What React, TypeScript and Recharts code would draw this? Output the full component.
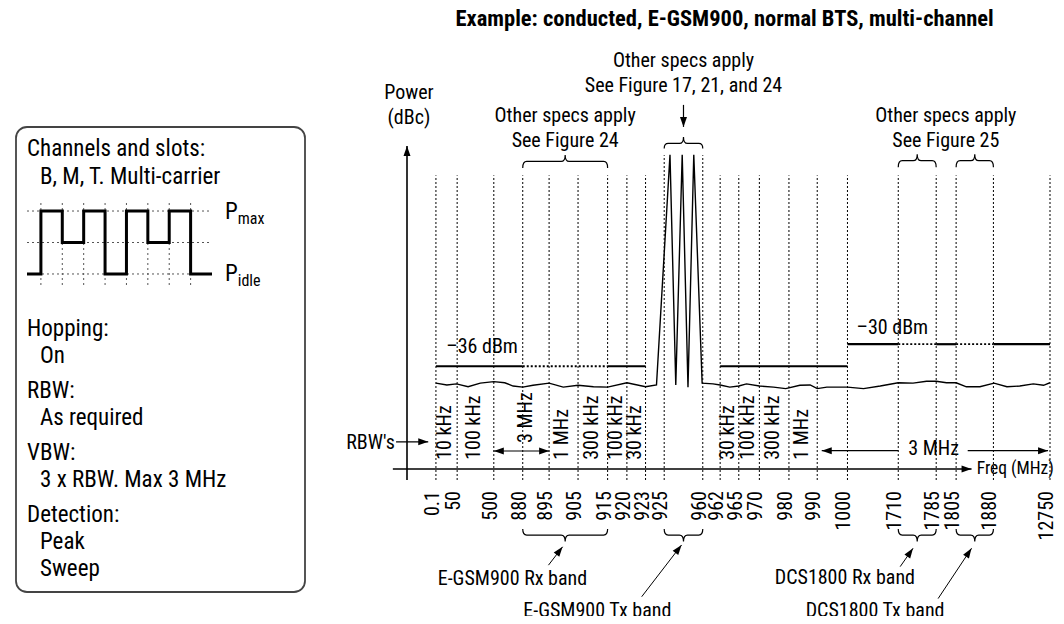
import React from 'react';
import {
  ComposedChart,
  LineChart,
  Line,
  XAxis,
  YAxis,
  ReferenceLine,
  ReferenceDot,
} from 'recharts';

const FONT = "'Liberation Sans Narrow', 'Roboto Condensed', 'DejaVu Sans Condensed', sans-serif";
const FS = 20;

// frequencies on the axis (MHz) and where each sits on the broken axis (0..100)
const freqLabels = ['0.1', '50', '500', '880', '895', '905', '915', '920', '923', '925', '960',
  '962', '965', '970', '980', '990', '1000', '1710', '1785', '1805', '1880', '12750'];
const freqPos = [4.5, 7.8, 13.5, 18.0, 22.1, 26.6, 31.2, 34.2, 37.1, 40.0, 46.0,
  48.7, 51.6, 54.8, 59.4, 63.8, 68.5, 76.4, 82.3, 85.4, 91.2, 100];

// spurious emission limits (dBm), dotted where other specs apply
const limitFrom = ['0.1', '880', '915', '962', '1000', '1710', '1785', '1805', '1880'];
const limitTo = ['880', '915', '923', '1000', '1710', '1785', '1805', '1880', '12750'];
const limitLevel = [-36, -36, -36, -36, -30, -30, -30, -30, -30];
const limitDotted = [false, true, false, false, false, true, false, true, false];

// measured trace: noise floor plus the three carriers
const tracePos = [4.5, 6.2, 7.7, 9.5, 11.4, 13.5, 15.2, 16.5, 18.0, 19.6, 22.1, 24.3, 26.6, 29.0,
  31.2, 34.2, 37.1, 38.8, 40.9, 41.8, 42.8, 43.7, 44.6, 45.9, 47.6, 48.7, 50.2, 51.6, 52.8, 54.8,
  57.0, 58.9, 61.1, 62.7, 63.8, 65.3, 68.5, 71.0, 73.6, 76.4, 78.7, 80.8, 82.3, 83.9, 85.4, 87.0,
  89.1, 91.3, 93.3, 95.3, 97.4, 99.0, 100];
const traceLevel = [-40.6, -41.1, -40.8, -41.6, -40.6, -40.2, -40.5, -41.4, -41.7, -41.2, -40.6,
  -41.7, -41.2, -41.6, -41.7, -40.5, -41.6, -41.1, 21.6, -41.1, 21.6, -41.7, 21.6, -40.6, -40.8,
  -41.1, -41.7, -41.4, -40.8, -41.4, -41.7, -42.1, -41.2, -41.1, -42.1, -41.7, -41.7, -42.1, -41.4,
  -40.5, -40.6, -40.1, -40.1, -40.5, -40.5, -41.6, -41.6, -40.6, -41.6, -41.4, -40.8, -41.2, -40.5];

// RBW used in each segment
const rbwFrom = ['0.1', '50', '895', '905', '915', '920', '962', '965', '970', '980'];
const rbwTo = ['50', '500', '905', '915', '920', '923', '965', '970', '980', '990'];
const rbwText = ['10 kHz', '100 kHz', '1 MHz', '300 kHz', '100 kHz', '30 kHz', '30 kHz', '100 kHz', '300 kHz', '1 MHz'];

// bands marked under the axis
const bandName = ['E-GSM900 Rx band', 'E-GSM900 Tx band', 'DCS1800 Rx band', 'DCS1800 Tx band'];
const bandFrom = ['880', '925', '1710', '1805'];
const bandTo = ['915', '960', '1785', '1880'];

// slot pattern in the legend box: 0 = Pidle, 1 = reduced, 2 = Pmax
const pulseTime = [0.35, 1, 2, 3, 4, 5, 6, 7, 8, 9];
const pulseLevel = [0, 2, 1, 2, 0, 2, 1, 2, 0, 0];

const pos = (f: string) => freqPos[freqLabels.indexOf(f)];
const mid = (a: string, b: string) => (pos(a) + pos(b)) / 2;

const head = (x1: number, y1: number, x2: number, y2: number, len = 10, half = 3.5) => {
  const a = Math.atan2(y2 - y1, x2 - x1);
  const bx = x2 - len * Math.cos(a);
  const by = y2 - len * Math.sin(a);
  const px = -Math.sin(a) * half;
  const py = Math.cos(a) * half;
  return `${x2},${y2} ${bx + px},${by + py} ${bx - px},${by - py}`;
};

const arrow = (both = false, w = 1.3) => (p: any) => (
  <g>
    <line x1={p.x1} y1={p.y1} x2={p.x2} y2={p.y2} stroke="#000" strokeWidth={w} />
    <polygon points={head(p.x1, p.y1, p.x2, p.y2)} fill="#000" />
    {both && <polygon points={head(p.x2, p.y2, p.x1, p.y1)} fill="#000" />}
  </g>
);

// curly brace; dir 1 = tip up, -1 = tip down
const brace = (dir: number, leg = 6.5, tip = 6.5) => (p: any) => {
  const { x1, x2, y1: y } = p;
  const xm = (x1 + x2) / 2;
  const r = 4;
  const e = y + dir * leg;
  const t = y - dir * tip;
  const d = `M${x1},${e} Q${x1},${y} ${x1 + r},${y} L${xm - r},${y} Q${xm},${y} ${xm},${t} ` +
    `Q${xm},${y} ${xm + r},${y} L${x2 - r},${y} Q${x2},${y} ${x2},${e}`;
  return <path d={d} fill="none" stroke="#000" strokeWidth={1.2} />;
};

type TxtOpt = {
  anchor?: 'start' | 'middle' | 'end';
  bold?: boolean;
  rotate?: boolean;
  size?: number;
};

const txt = (key: string, x: number, y: number, s: string, o: TxtOpt = {}) => (
  <ReferenceDot
    key={key}
    x={x}
    y={y}
    r={0}
    ifOverflow="visible"
    shape={(p: any) => (
      <text
        x={p.cx}
        y={p.cy}
        transform={o.rotate ? `rotate(-90 ${p.cx} ${p.cy})` : undefined}
        textAnchor={o.anchor ?? 'middle'}
        dominantBaseline="central"
        fontFamily={FONT}
        fontSize={o.size ?? FS}
        fontWeight={o.bold ? 700 : 400}
        fill="#000"
      >
        {s}
      </text>
    )}
  />
);

const seg = (key: string, xa: number, ya: number, xb: number, yb: number, shape: any) => (
  <ReferenceLine key={key} segment={[{ x: xa, y: ya }, { x: xb, y: yb }]} ifOverflow="visible" shape={shape} />
);

const FreqTick = (p: any) => {
  const label = freqLabels[freqPos.indexOf(p.payload.value)];
  return (
    <text
      x={0}
      y={0}
      transform={`translate(${p.x - 4},${p.y}) rotate(-90)`}
      textAnchor="end"
      dominantBaseline="central"
      fontFamily={FONT}
      fontSize={FS}
      fill="#000"
    >
      {label}
    </text>
  );
};

// legend box text, page coordinates
const BOX = { left: 16, top: 127, right: 305, bottom: 592 };
const BFS = 23;
const boxText = [
  { s: 'Channels and slots:', x: 27, y: 148 },
  { s: 'B, M, T. Multi-carrier', x: 40, y: 176 },
  { s: 'Hopping:', x: 27, y: 328 },
  { s: 'On', x: 40, y: 355 },
  { s: 'RBW:', x: 27, y: 390 },
  { s: 'As required', x: 40, y: 417 },
  { s: 'VBW:', x: 27, y: 452 },
  { s: '3 x RBW. Max 3 MHz', x: 40, y: 479 },
  { s: 'Detection:', x: 27, y: 514 },
  { s: 'Peak', x: 40, y: 541 },
  { s: 'Sweep', x: 40, y: 568 },
];

const LegendBox = () => {
  const pulse = pulseLevel.map((v, i) => ({ t: pulseTime[i], v }));
  return (
    <>
      <svg width={1064} height={624} style={{ position: 'absolute', left: 0, top: 0 }}>
        <rect
          x={BOX.left}
          y={BOX.top}
          width={BOX.right - BOX.left}
          height={BOX.bottom - BOX.top}
          rx={11}
          fill="none"
          stroke="#444"
          strokeWidth={1.8}
        />
        {boxText.map((b) => (
          <text key={b.s} x={b.x} y={b.y} dominantBaseline="central" fontFamily={FONT} fontSize={BFS}>
            {b.s}
          </text>
        ))}
        <text x={225} y={211} dominantBaseline="central" fontFamily={FONT} fontSize={BFS}>
          P<tspan fontSize={16} dy={7}>max</tspan>
        </text>
        <text x={225} y={273} dominantBaseline="central" fontFamily={FONT} fontSize={BFS}>
          P<tspan fontSize={16} dy={7}>idle</tspan>
        </text>
      </svg>
      <div style={{ position: 'absolute', left: 27, top: 200 }}>
        <LineChart width={185} height={85} data={pulse} margin={{ top: 0, right: 0, bottom: 0, left: 0 }}>
          <XAxis dataKey="t" type="number" domain={[pulseTime[0], pulseTime[pulseTime.length - 1]]} hide />
          <YAxis type="number" domain={[-0.35, 2.35]} hide />
          {[0, 1, 2].map((l) => (
            <ReferenceLine key={'h' + l} y={l} stroke="#555" strokeDasharray="2 3" />
          ))}
          {pulseTime.slice(1, -1).map((t) => (
            <ReferenceLine key={'v' + t} x={t} stroke="#555" strokeDasharray="2 3" />
          ))}
          <Line dataKey="v" type="stepAfter" stroke="#000" strokeWidth={3} dot={false} isAnimationActive={false} />
        </LineChart>
      </div>
    </>
  );
};

export default function App() {
  const gridTop = (f: string) => (f === '925' || f === '960' ? 21.5 : 16);
  return (
    <div style={{ position: 'relative', width: 1048, height: 608 }}>
      <div style={{ position: 'absolute', left: -8, top: -8, width: 1064, height: 624 }}>
        <LegendBox />
        <div style={{ position: 'absolute', left: 0, top: 0 }}>
          <ComposedChart width={1064} height={624} margin={{ top: 146, right: 14, bottom: 125, left: 407 }}>
            <XAxis
              type="number"
              dataKey="x"
              domain={[0, 100]}
              ticks={freqPos}
              interval={0}
              tick={<FreqTick />}
              tickSize={0}
              tickMargin={22}
              axisLine={false}
              tickLine={false}
              allowDataOverflow
            />
            <YAxis type="number" domain={[-64, 24]} hide allowDataOverflow />

            {freqLabels.map((f) => (
              <ReferenceLine
                key={'g' + f}
                segment={[{ x: pos(f), y: -67 }, { x: pos(f), y: gridTop(f) }]}
                ifOverflow="visible"
                stroke="#000"
                strokeWidth={1}
                strokeDasharray="2 2"
              />
            ))}

            {/* axes */}
            {seg('xaxis', -2.2, -64, 87.8, -64, arrow(false, 1.6))}
            {seg('yaxis', 0, -67, 0, 24, arrow(false, 1.6))}

            {limitFrom.map((f, i) => (
              <Line
                key={'lim' + i}
                data={[{ x: pos(f), y: limitLevel[i] }, { x: pos(limitTo[i]), y: limitLevel[i] }]}
                dataKey="y"
                type="linear"
                stroke="#000"
                strokeWidth={limitDotted[i] ? 1.8 : 2.2}
                strokeDasharray={limitDotted[i] ? '2 2' : undefined}
                dot={false}
                isAnimationActive={false}
              />
            ))}

            <Line
              data={tracePos.map((x, i) => ({ x, y: traceLevel[i] }))}
              dataKey="y"
              type="linear"
              stroke="#000"
              strokeWidth={1.4}
              dot={false}
              isAnimationActive={false}
            />

            {/* RBW labels */}
            {rbwText.map((s, i) =>
              txt('rbw' + i, mid(rbwFrom[i], rbwTo[i]) - 0.35, -61.5, s, { anchor: 'start', rotate: true }))}
            {txt('rbw3l', 18.4, -56.9, '3 MHz', { anchor: 'start', rotate: true })}
            {seg('rbw3la', pos('500'), -59.1, pos('895'), -59.1, arrow(true, 1.2))}
            {txt('rbw3r', 81.9, -58.3, '3 MHz')}
            {seg('rbw3ra', 76.4, -59, pos('990') + 0.7, -59, arrow(false, 1.2))}
            {seg('rbw3rb', 87.2, -59, 99.7, -59, arrow(false, 1.2))}
            {txt('rbws', -1.9, -56.6, "RBW's", { anchor: 'end' })}
            {seg('rbwsa', -1.7, -56.6, 3.3, -56.6, arrow(false, 1.2))}
            {txt('freq', 88.6, -63.7, 'Freq (MHz)', { anchor: 'start', size: 17.5 })}

            {/* limit values */}
            {txt('l36', 6.1, -30.5, '\u201336 dBm', { anchor: 'start' })}
            {txt('l30', 69.9, -25.2, '\u201330 dBm', { anchor: 'start' })}

            {/* title and axis name */}
            {txt('title', 49.4, 58.9, 'Example: conducted, E-GSM900, normal BTS, multi-channel', { bold: true, size: 22.5 })}
            {txt('pw1', 0.3, 38.8, 'Power')}
            {txt('pw2', 0.3, 32, '(dBc)')}

            {/* other specs */}
            {txt('o1a', mid('880', '915'), 32.5, 'Other specs apply')}
            {txt('o1b', mid('880', '915'), 25.6, 'See Figure 24')}
            {seg('o1c', pos('880'), 19.8, pos('915'), 19.8, brace(1))}
            {txt('o2a', mid('925', '960'), 47.4, 'Other specs apply')}
            {txt('o2b', mid('925', '960'), 40.6, 'See Figure 17, 21, and 24')}
            {seg('o2c', mid('925', '960'), 35.2, mid('925', '960'), 29.2, arrow(false, 1.2))}
            {seg('o2d', pos('925'), 24.7, pos('960'), 24.7, brace(1, 5, 6.5))}
            {txt('o3a', mid('1710', '1880'), 32.5, 'Other specs apply')}
            {txt('o3b', mid('1710', '1880'), 25.6, 'See Figure 25')}
            {seg('o3c', pos('1710'), 20, pos('1785'), 20, brace(1))}
            {seg('o3d', pos('1805'), 20, pos('1880'), 20, brace(1))}

            {/* bands */}
            {bandFrom.map((f, i) => seg('bb' + i, pos(f), -82, pos(bandTo[i]), -82, brace(-1, 6, 6.5)))}
            {seg('ba0', 22.0, -90.2, 24.2, -85.2, arrow(false, 1))}
            {seg('ba1', 36.5, -98.8, 42.7, -84.7, arrow(false, 1))}
            {seg('ba2', 76.7, -90.6, 78.7, -85.6, arrow(false, 1))}
            {seg('ba3', 82.6, -99.3, 87.8, -85.6, arrow(false, 1))}
            {txt('bn0', 16.4, -93.8, bandName[0])}
            {txt('bn1', 29.6, -102.4, bandName[1])}
            {txt('bn2', 68.1, -93.3, bandName[2])}
            {txt('bn3', 72.8, -102.4, bandName[3])}
          </ComposedChart>
        </div>
      </div>
    </div>
  );
}
